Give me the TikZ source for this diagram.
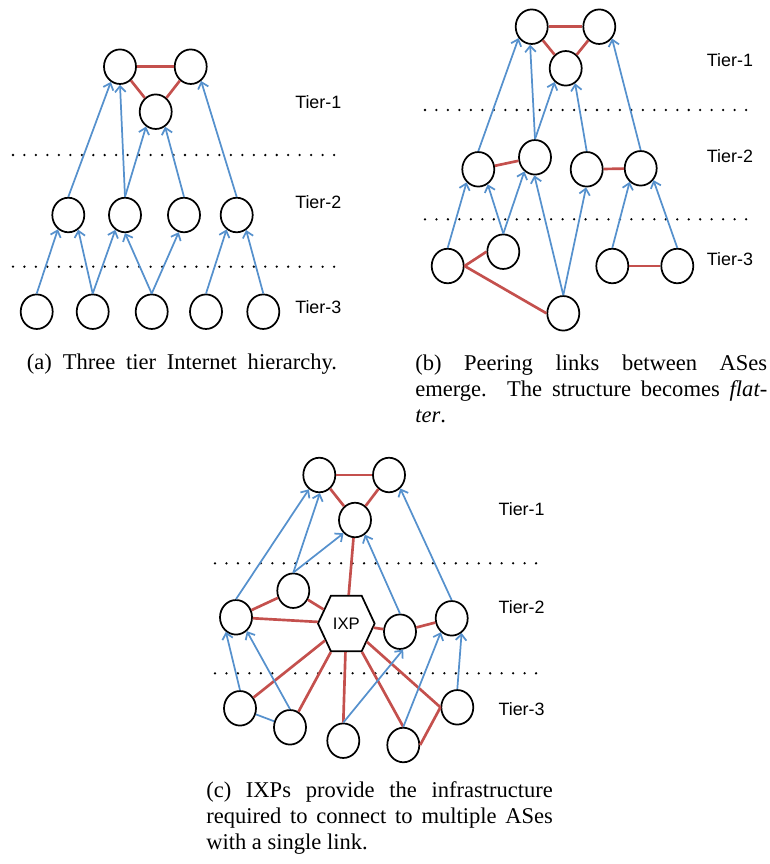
\documentclass[tikz,border=0pt]{standalone}
\usepackage{fontspec}
\setmainfont{Liberation Serif}
\setsansfont{Liberation Sans}
\usepackage{xcolor}
\usepackage{tikz}
\usetikzlibrary{arrows.meta,positioning,shapes.geometric,shapes.symbols}
\definecolor{upblue}{RGB}{86,145,205}
\definecolor{peerred}{RGB}{196,80,77}
\tikzset{
  asnode/.style={draw=black, line width=1.3pt, ellipse, inner sep=0pt, minimum width=24pt, minimum height=25.9pt},
  ixpnode/.style={draw=black, line width=1.3pt, signal, signal to=east and west, signal pointer angle=130, inner sep=0pt, minimum width=42.5pt, minimum height=41.5pt, font=\sffamily\fontsize{12.5}{14}\selectfont},
  uparr/.style={-{Straight Barb[length=4.5pt,width=8pt]}, upblue, line width=1.3pt},
  uplink/.style={upblue, line width=1.3pt},
  peer/.style={peerred, line width=2pt},
  tierline/.style={line width=1.9pt, line cap=round, dash pattern=on 0pt off 8.6pt},
  tierlab/.style={anchor=west, inner sep=0pt, font=\sffamily\fontsize{13.4}{16}\selectfont},
  capbox/.style={anchor=north west, inner sep=0pt, align=justify, font=\fontsize{16.9}{19.5}\selectfont}
}

\begin{document}
\begin{tikzpicture}[x=0.75pt, y=-0.75pt]
\useasboundingbox (0,0) rectangle (769,864);

% (a) three tiers
\draw[tierline] (13,155) -- (338,155);
\draw[tierline] (13,266.7) -- (338,266.7);
\node[tierlab] (la1) at (295,101.7) {Tier-1};
\node[tierlab] (la2) at (295,201.7) {Tier-2};
\node[tierlab] (la3) at (295,306.7) {Tier-3};
\node[asnode] (a11) at (120,66.7) {};
\node[asnode] (a12) at (190.7,66.7) {};
\node[asnode] (a13) at (155.7,111.7) {};
\node[asnode] (a21) at (68.3,215) {};
\node[asnode] (a22) at (125,215) {};
\node[asnode] (a23) at (184,215) {};
\node[asnode] (a24) at (236.7,215) {};
\node[asnode] (a31) at (36.7,311.7) {};
\node[asnode] (a32) at (92.7,311.7) {};
\node[asnode] (a33) at (151.7,311.7) {};
\node[asnode] (a34) at (206,311.7) {};
\node[asnode] (a35) at (263.3,311.7) {};
\draw[peer] (a11) -- (a12); \draw[peer] (a11) -- (a13); \draw[peer] (a12) -- (a13);
\draw[uparr] (a21.north) -- (a11.239);
\draw[uparr] (a22.north) -- (a11.270);
\draw[uparr] (a22.north) -- (a13.237);
\draw[uparr] (a23.north) -- (a13.302);
\draw[uparr] (a24.north) -- (a12.306);
\draw[uparr] (a31.north) -- (a21.234);
\draw[uparr] (a32.north) -- (a21.304);
\draw[uparr] (a32.north) -- (a22.237);
\draw[uparr] (a33.north) -- (a22.270);
\draw[uparr] (a33.north) -- (a23.253);
\draw[uparr] (a34.north) -- (a24.235);
\draw[uparr] (a35.north) -- (a24.302);
\node[capbox] (capa) at (26.7,353.5)
  {\makebox[232.5pt][s]{(a) Three tier Internet hierarchy.}};

% (b) peering
\draw[tierline] (425,110) -- (746.7,110);
\draw[tierline] (425,219.3) -- (746.7,219.3);
\node[tierlab] (lb1) at (706.7,60) {Tier-1};
\node[tierlab] (lb2) at (706.7,156) {Tier-2};
\node[tierlab] (lb3) at (706.7,259.3) {Tier-3};
\node[asnode] (b11) at (531.7,26.7) {};
\node[asnode] (b12) at (599.3,26.7) {};
\node[asnode] (b13) at (565.7,68.3) {};
\node[asnode] (b21) at (478.3,169.3) {};
\node[asnode] (b22) at (535,157.3) {};
\node[asnode] (b23) at (586.7,169.3) {};
\node[asnode] (b24) at (640.7,168.3) {};
\node[asnode] (b31) at (447.7,266) {};
\node[asnode] (b32) at (503.3,251.7) {};
\node[asnode] (b33) at (563.3,313.3) {};
\node[asnode] (b34) at (612.3,266) {};
\node[asnode] (b35) at (677.3,266) {};
\draw[peer] (b11) -- (b12); \draw[peer] (b11) -- (b13); \draw[peer] (b12) -- (b13);
\draw[peer] (b21) -- (b22); \draw[peer] (b23) -- (b24);
\draw[peer] (b31.east) -- (b32.west); \draw[peer] (b31.east) -- (b33.west);
\draw[peer] (b34) -- (b35);
\draw[uparr] (b21.north) -- (b11.221);
\draw[uparr] (b22.north) -- (b11.265);
\draw[uparr] (b22.north) -- (b13.231);
\draw[uparr] (b23.north) -- (b13.302);
\draw[uparr] (b24.north) -- (b12.317);
\draw[uparr] (b31.north) -- (b21.228);
\draw[uparr] (b32.north) -- (b21.302);
\draw[uparr] (b32.north) -- (b22.233);
\draw[uparr] (b33.north) -- (b22.268);
\draw[uparr] (b33.north) -- (b23.268);
\draw[uparr] (b34.north) -- (b24.231);
\draw[uparr] (b35.north) -- (b24.317);
\node[capbox, text width=264pt] (capb) at (415,354.4)
  {(b) Peering links between ASes\linebreak emerge. The structure becomes \emph{flat-}\linebreak\emph{ter}.};

% (c) IXP
\draw[tierline] (215,563.3) -- (538,563.3);
\draw[tierline] (215,673.3) -- (538,673.3);
\node[tierlab] (lc1) at (498.3,509) {Tier-1};
\node[tierlab] (lc2) at (498.3,606.7) {Tier-2};
\node[tierlab] (lc3) at (498.3,709.3) {Tier-3};
\node[asnode] (c11) at (319.3,475) {};
\node[asnode] (c12) at (389,475) {};
\node[asnode] (c13) at (355,520) {};
\node[asnode] (c21) at (236,617.3) {};
\node[asnode] (c22) at (293.3,590.7) {};
\node[ixpnode] (ixp) at (346.3,623.5) {IXP};
\node[asnode] (c23) at (400,631.7) {};
\node[asnode] (c24) at (451.7,618.3) {};
\node[asnode] (c31) at (240,708.3) {};
\node[asnode] (c32) at (290,727.3) {};
\node[asnode] (c33) at (343.3,740.7) {};
\node[asnode] (c34) at (403.3,745) {};
\node[asnode] (c35) at (457.3,707.3) {};
\draw[peer] (c11) -- (c12); \draw[peer] (c11) -- (c13); \draw[peer] (c12) -- (c13);
\draw[peer] (c13) -- (ixp);
\draw[peer] (c21) -- (c22); \draw[peer] (c22) -- (ixp); \draw[peer] (c21) -- (ixp);
\draw[peer] (ixp) -- (c23); \draw[peer] (c23) -- (c24);
\draw[peer] (ixp) -- (c31); \draw[peer] (ixp) -- (c32);
\draw[peer] (ixp) -- (c33.north); \draw[peer] (ixp) -- (c34.north);
\draw[peer] (ixp) -- (c35.west); \draw[peer] (c34.east) -- (c35.west);
\draw[uparr] (c21.north) -- (c11.234);
\draw[uparr] (c22.north) -- (c11.272);
\draw[uparr] (c22.north) -- (c13.229);
\draw[uparr] (c23.north) -- (c13.304);
\draw[uparr] (c24.north) -- (c12.310);
\draw[uparr] (c31.north) -- (c21.235);
\draw[uparr] (c32.north) -- (c21.308);
\draw[uplink] (c31) -- (c32);
\draw[uparr] (c33.north) -- (c23.280);
\draw[uparr] (c34.north) -- (c24.232);
\draw[uparr] (c35.north) -- (c24.304);
\node[capbox, text width=260pt] (capc) at (206,781.7)
  {(c) IXPs provide the infrastructure\linebreak required to connect to multiple ASes\linebreak with a single link.};
\end{tikzpicture}
\end{document}
